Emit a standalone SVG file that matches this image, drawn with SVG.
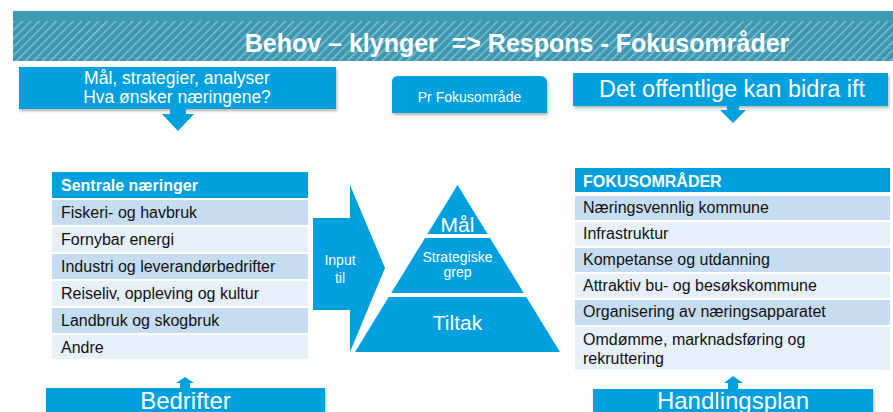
<svg xmlns="http://www.w3.org/2000/svg" width="893" height="412" viewBox="0 0 893 412">
<style>
text{font-family:"Liberation Sans",Arial,sans-serif}
.blue{fill:#00A0DE}
.sh{filter:url(#shadow)}
.w{fill:#ffffff}
.hdr{fill:#ffffff;font-weight:bold;font-size:16px}
.row1{fill:#C6DDF1}
.row2{fill:#E7EFF8}
.rt{fill:#111111;font-size:16px}
.mid{text-anchor:middle}
</style>
<defs>
<pattern id="hatch" patternUnits="userSpaceOnUse" width="6" height="6" patternTransform="rotate(45)">
<rect width="6" height="6" fill="#3E98B1"/>
<rect x="0" y="0" width="1.4" height="6" fill="#86C3D3"/>
</pattern>
<filter id="shadow" x="-10%" y="-20%" width="120%" height="150%">
<feDropShadow dx="1" dy="2" stdDeviation="1.5" flood-color="#000000" flood-opacity="0.3"/>
</filter>
</defs>

<g id="title">
<rect x="13" y="11" width="880" height="10" fill="#3F9AB3"/>
<rect x="13" y="21" width="880" height="40" fill="url(#hatch)"/>
<text x="517" y="52" class="mid" xml:space="preserve" fill="#ffffff" font-weight="bold" font-size="25">Behov – klynger  =&gt; Respons - Fokusområder</text>
</g>

<g id="node-mal">
<rect x="19" y="67" width="317" height="42" class="blue sh"/>
<text x="177" y="84" class="w mid" font-size="17.5">Mål, strategier, analyser</text>
<text x="177" y="103" class="w mid" font-size="17.5">Hva ønsker næringene?</text>
</g>

<g id="node-pr">
<path d="M392,113 V82 Q392,76 398,76 H540 Q547,76 547,83 V113 Z" class="blue sh"/>
<text x="469.5" y="102" class="w mid" font-size="14">Pr Fokusområde</text>
</g>

<g id="node-offentlige">
<rect x="573" y="73" width="315" height="33" class="blue sh"/>
<text x="732" y="97" class="w mid" font-size="23.5">Det offentlige kan bidra ift</text>
</g>

<g id="node-sentrale">
<rect x="52" y="172" width="256" height="26" class="blue"/>
<text x="61" y="191" class="hdr">Sentrale næringer</text>
<rect x="52" y="200" width="256" height="25" class="row1"/>
<rect x="52" y="227" width="256" height="25" class="row2"/>
<rect x="52" y="254" width="256" height="25" class="row1"/>
<rect x="52" y="281" width="256" height="25" class="row2"/>
<rect x="52" y="308" width="256" height="25" class="row1"/>
<rect x="52" y="335" width="256" height="24" class="row2"/>
<text x="61" y="218" class="rt">Fiskeri- og havbruk</text>
<text x="61" y="245" class="rt">Fornybar energi</text>
<text x="61" y="272" class="rt">Industri og leverandørbedrifter</text>
<text x="61" y="299" class="rt">Reiseliv, oppleving og kultur</text>
<text x="61" y="326" class="rt">Landbruk og skogbruk</text>
<text x="61" y="353" class="rt">Andre</text>
</g>

<g id="node-input">
<polygon points="313,218 350,218 350,185 385,268 350,352 350,310 313,310" class="blue"/>
<text x="340" y="265" class="w mid" font-size="14">Input</text>
<text x="340" y="283" class="w mid" font-size="14">til</text>
</g>

<g id="node-pyramide">
<polygon points="457.5,185 427.4,234 487.6,234" class="blue"/>
<polygon points="425,238 490,238 523.8,293 391.2,293" class="blue"/>
<polygon points="388.7,297 526.3,297 560,352 355,352" class="blue"/>
<text x="457.5" y="232" class="w mid" font-size="21">Mål</text>
<text x="457.5" y="262" class="w mid" font-size="14">Strategiske</text>
<text x="457.5" y="277" class="w mid" font-size="14">grep</text>
<text x="457.5" y="330" class="w mid" font-size="21">Tiltak</text>
</g>

<g id="node-fokus">
<rect x="575" y="168" width="315" height="24" class="blue"/>
<text x="583" y="187" class="hdr">FOKUSOMRÅDER</text>
<rect x="575" y="196" width="315" height="24" class="row1"/>
<rect x="575" y="222" width="315" height="24" class="row2"/>
<rect x="575" y="248" width="315" height="24" class="row1"/>
<rect x="575" y="274" width="315" height="24" class="row2"/>
<rect x="575" y="300" width="315" height="25" class="row1"/>
<rect x="575" y="327" width="315" height="43" class="row2"/>
<text x="583" y="213" class="rt">Næringsvennlig kommune</text>
<text x="583" y="239" class="rt">Infrastruktur</text>
<text x="583" y="265" class="rt">Kompetanse og utdanning</text>
<text x="583" y="291" class="rt">Attraktiv bu- og besøkskommune</text>
<text x="583" y="317" class="rt">Organisering av næringsapparatet</text>
<text x="583" y="345" class="rt">Omdømme, marknadsføring og</text>
<text x="583" y="364" class="rt">rekruttering</text>
</g>

<g id="node-bedrifter">
<rect x="46" y="388" width="279" height="30" class="blue sh"/>
<text x="185.5" y="409" class="w mid" font-size="24">Bedrifter</text>
</g>

<g id="node-handlingsplan">
<rect x="593" y="389" width="280" height="30" class="blue sh"/>
<text x="733" y="409" class="w mid" font-size="24">Handlingsplan</text>
</g>

<g id="connectors">
<polygon points="170,108 186,108 186,114 194,114 178,131 162,114 170,114" class="blue"/>
<polygon points="727,105 739,105 739,110 746,110 733,123 720,110 727,110" class="blue"/>
<polygon points="180,389 190,389 190,383 194,383 185,377 176,383 180,383" class="blue"/>
<polygon points="728,390 738,390 738,383 743,383 733,376 724,383 728,383" class="blue"/>
</g>
</svg>
